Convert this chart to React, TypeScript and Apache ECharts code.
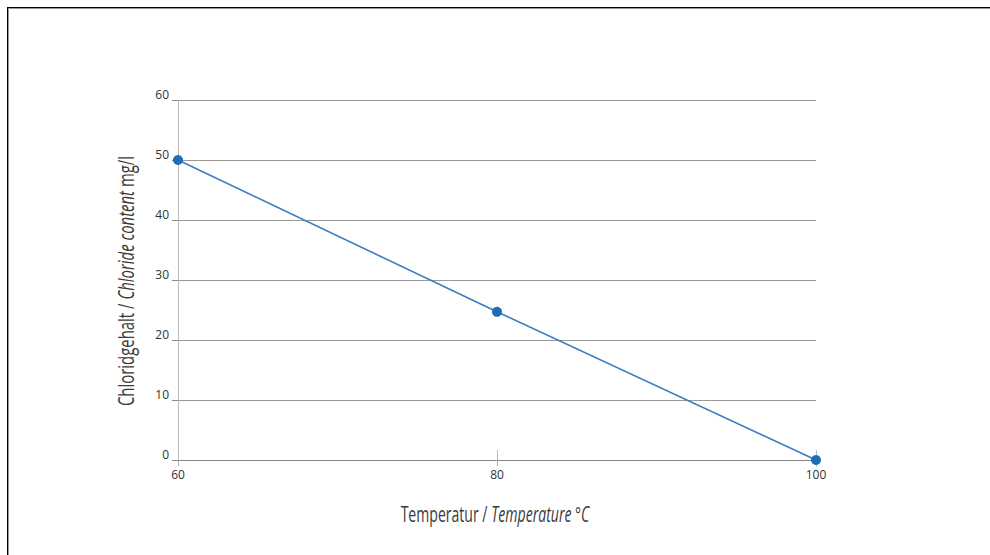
import React, { useEffect, useRef } from "react";
import * as echarts from "echarts";

const temperatures = [60, 80, 100];
const chlorideValues = [50, 24.7, 0];
const xTicks = { min: 60, max: 100, interval: 20 };
const yTicks = { min: 0, max: 60, interval: 10 };
const xTitle = ["Temperatur / ", "Temperature °C"];
const yTitle = ["Chloridgehalt / ", "Chloride content", " mg/l"];

const TITLE_FONT = "'Open Sans', 'Noto Sans', sans-serif";
const TICK_FONT = "'Open Sans', 'Noto Sans', sans-serif";

const titleRich = {
  n: { fontFamily: TITLE_FONT, fontSize: 21, fontWeight: "normal", fill: "#3a3a3a", color: "#3a3a3a" },
  i: { fontFamily: TITLE_FONT, fontSize: 21, fontWeight: "normal", fontStyle: "italic", fill: "#3a3a3a", color: "#3a3a3a" },
};

export default function App() {
  const ref = useRef<HTMLDivElement>(null);
  useEffect(() => {
    if (!ref.current) return;
    const chart = echarts.init(ref.current, null, { renderer: "svg" });
    const data = temperatures.map((t, i) => [t, chlorideValues[i]]);
    chart.setOption({
      animation: false,
      backgroundColor: "transparent",
      grid: { left: 178, top: 100, right: 174, bottom: 95, containLabel: false },
      graphic: [
        {
          type: "text",
          x: 495,
          y: 514,
          scaleX: 0.67,
          style: {
            text: `{n|${xTitle[0]}}{i|${xTitle[1]}}`,
            rich: titleRich,
            align: "center",
            verticalAlign: "middle",
          },
        },
        {
          type: "text",
          x: 126,
          y: 281,
          rotation: Math.PI / 2,
          scaleX: 0.71,
          style: {
            text: `{n|${yTitle[0]}}{i|${yTitle[1]}}{n|${yTitle[2]}}`,
            rich: titleRich,
            align: "center",
            verticalAlign: "middle",
          },
        },
      ],
      xAxis: [
        {
          type: "value",
          min: xTicks.min,
          max: xTicks.max,
          interval: xTicks.interval,
          axisLine: { show: true, lineStyle: { color: "#888", width: 1 } },
          axisTick: { show: true, length: 6, lineStyle: { color: "#aaa" } },
          axisLabel: { margin: 8, color: "#333", fontSize: 12, fontFamily: TICK_FONT },
          splitLine: { show: false },
        },
        {
          type: "value",
          min: xTicks.min,
          max: xTicks.max,
          interval: xTicks.interval,
          position: "bottom",
          axisLine: { show: false },
          axisTick: { show: true, inside: true, length: 10, lineStyle: { color: "#bbb" } },
          axisLabel: { show: false },
          splitLine: { show: false },
        },
      ],
      yAxis: {
        type: "value",
        min: yTicks.min,
        max: yTicks.max,
        interval: yTicks.interval,
        axisLine: { show: true, lineStyle: { color: "#bbb", width: 1 } },
        axisTick: { show: true, length: 6, lineStyle: { color: "#888" } },
        axisLabel: {
          margin: 9,
          color: "#333",
          fontSize: 12,
          fontFamily: TICK_FONT,
          verticalAlign: "bottom",
        },
        splitLine: { show: true, lineStyle: { color: "#999", width: 1 } },
      },
      series: [
        {
          type: "line",
          xAxisIndex: 0,
          data,
          symbol: "circle",
          symbolSize: 10,
          lineStyle: { color: "#3d7cc4", width: 1.6 },
          itemStyle: { color: "#1a6fb8" },
        },
      ],
    });
    return () => chart.dispose();
  }, []);

  return (
    <div style={{ position: "absolute", left: 0, top: 0, width: 990, height: 555, overflow: "hidden", background: "#fff" }}>
      <div
        style={{
          position: "absolute",
          left: 7,
          top: 7,
          width: 1100,
          height: 700,
          borderTop: "1px solid #000",
          borderLeft: "1px solid #000",
          boxShadow: "inset 1px 1px 0 #999",
        }}
      />
      <div ref={ref} style={{ position: "absolute", left: 0, top: 0, width: 990, height: 555 }} />
    </div>
  );
}
